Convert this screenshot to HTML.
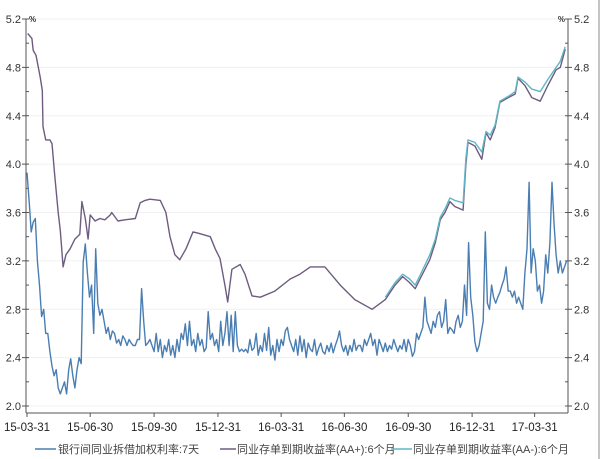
<!DOCTYPE html>
<html><head><meta charset="utf-8">
<style>
html,body{margin:0;padding:0;background:#fff;}
svg{display:block;font-family:"Liberation Sans","Noto Sans CJK SC",sans-serif;}
</style></head>
<body>
<svg id="chart" width="600" height="459" viewBox="0 0 600 459" xmlns="http://www.w3.org/2000/svg">
<g id="grid"></g>
<g id="axes"></g>
<g id="series"></g>
<g id="legend">
  <g>
    <line x1="35" y1="449" x2="56" y2="449" stroke="#4a7eb3" stroke-width="1.5"/>
    <text x="58" y="453" font-size="11" fill="#444">银行间同业拆借加权利率:7天</text>
  </g>
  <g>
    <line x1="220" y1="449" x2="236" y2="449" stroke="#6e5c80" stroke-width="1.5"/>
    <text x="237" y="453" font-size="11" fill="#444">同业存单到期收益率(AA+):6个月</text>
  </g>
  <g>
    <line x1="391" y1="449" x2="412" y2="449" stroke="#5fb6c6" stroke-width="1.5"/>
    <text x="413" y="453" font-size="11" fill="#444">同业存单到期收益率(AA-):6个月</text>
  </g>
</g>
<line x1="599" y1="0" x2="599" y2="459" stroke="#888" stroke-width="1"/>
</svg>
<script>
const yTicks = [2.0, 2.4, 2.8, 3.2, 3.6, 4.0, 4.4, 4.8, 5.2];
const xTickLabels = ["15-03-31","15-06-30","15-09-30","15-12-31","16-03-31","16-06-30","16-09-30","16-12-31","17-03-31"];
const xTickDays = [0, 91, 183, 275, 366, 457, 549, 641, 731];
const blueStartDay = 0;
const blueStepDays = 3;
const blueValues = [
3.93,3.7,3.44,3.52,3.55,3.2,3.0,2.74,2.8,2.6,
2.6,2.45,2.33,2.25,2.3,2.15,2.1,2.15,2.2,2.1,
2.3,2.39,2.25,2.15,2.3,2.4,2.35,3.19,3.34,3.1,
2.9,3.0,2.6,3.3,2.85,2.75,2.8,2.7,2.6,2.65,
2.55,2.62,2.6,2.52,2.55,2.5,2.58,2.55,2.5,2.55,
2.52,2.5,2.5,2.55,2.55,2.97,2.7,2.5,2.52,2.55,
2.5,2.45,2.6,2.45,2.55,2.4,2.5,2.45,2.55,2.42,
2.5,2.4,2.55,2.45,2.6,2.55,2.68,2.5,2.7,2.5,
2.55,2.45,2.6,2.5,2.55,2.45,2.48,2.78,2.55,2.6,
2.5,2.55,2.45,2.7,2.5,2.6,2.78,2.5,2.75,2.45,
2.78,2.5,2.45,2.47,2.45,2.47,2.44,2.55,2.46,2.48,
2.6,2.42,2.5,2.45,2.6,2.46,2.65,2.42,2.5,2.38,
2.55,2.45,2.55,2.5,2.62,2.65,2.55,2.5,2.45,2.55,
2.42,2.58,2.45,2.55,2.4,2.52,2.47,2.45,2.55,2.42,
2.48,2.52,2.45,2.43,2.5,2.45,2.52,2.44,2.5,2.55,
2.62,2.5,2.45,2.5,2.42,2.5,2.45,2.55,2.46,2.5,
2.5,2.45,2.55,2.5,2.55,2.6,2.5,2.55,2.42,2.55,
2.5,2.45,2.52,2.45,2.5,2.47,2.55,2.5,2.45,2.5,
2.47,2.55,2.45,2.55,2.5,2.41,2.45,2.6,2.55,2.6,
2.65,2.9,2.7,2.65,2.6,2.7,2.65,2.75,2.78,2.65,
2.7,2.88,2.6,2.65,2.63,2.6,2.7,2.75,2.65,2.7,
3.0,2.75,3.35,2.9,2.75,2.53,2.45,2.5,2.6,2.7,
3.44,2.85,2.8,3.0,2.9,2.85,2.9,2.94,3.0,3.05,
3.15,2.95,2.95,2.9,2.95,2.85,2.9,2.85,2.8,3.1,
3.3,3.85,3.1,3.3,3.2,2.95,3.0,2.85,2.95,3.25,
3.1,3.35,3.85,3.5,3.25,3.1,3.2,3.1,3.15,3.2];
const purpleDays = [1,7,9,13,19,22,23,27,33,36,40,45,48,52,56,62,69,76,79,84,88,91,98,105,112,120,122,131,141,156,163,170,177,192,200,206,213,220,229,239,246,264,271,278,285,289,295,307,314,324,336,357,379,393,408,429,451,472,497,516,530,541,551,559,566,580,588,595,602,609,616,628,632,635,645,655,661,667,674,681,693,703,707,717,727,739,750,762,768,775];
const purpleValues = [5.08,5.04,4.94,4.9,4.72,4.61,4.31,4.2,4.2,4.17,3.9,3.6,3.45,3.15,3.25,3.3,3.38,3.42,3.69,3.55,3.38,3.58,3.53,3.55,3.54,3.58,3.6,3.53,3.54,3.55,3.68,3.7,3.71,3.7,3.6,3.4,3.25,3.21,3.3,3.44,3.43,3.4,3.3,3.22,3.0,2.86,3.13,3.17,3.09,2.91,2.9,2.95,3.05,3.09,3.15,3.15,3.0,2.88,2.8,2.88,3.0,3.07,3.02,2.97,3.05,3.21,3.35,3.54,3.6,3.69,3.65,3.62,4.0,4.18,4.15,4.04,4.26,4.2,4.3,4.51,4.55,4.58,4.71,4.65,4.55,4.52,4.65,4.78,4.8,4.95];
const cyanDays = [516,530,541,551,559,566,580,588,595,602,609,616,628,632,635,645,655,661,667,674,681,693,703,707,717,727,739,750,762,768,775];
const cyanValues = [2.9,3.02,3.09,3.05,3.0,3.08,3.25,3.38,3.56,3.63,3.72,3.7,3.68,4.05,4.2,4.18,4.1,4.27,4.24,4.32,4.52,4.56,4.6,4.72,4.68,4.62,4.6,4.7,4.8,4.85,4.97];

const NS = "http://www.w3.org/2000/svg";
const X0 = 27, PX_PER_DAY = 63.4/91.3;
const Y_TOP = 19, Y_BOT = 406, VMAX = 5.2, VMIN = 2.0;
const AX_L = 26, AX_R = 568, AX_B = 413;
function xs(d){ return X0 + d*PX_PER_DAY; }
function ys(v){ return Y_TOP + (VMAX - v)/(VMAX - VMIN)*(Y_BOT - Y_TOP); }
function mk(tag, attrs, parent){ const e=document.createElementNS(NS,tag); for(const k in attrs) e.setAttribute(k,attrs[k]); parent.appendChild(e); return e; }

const grid = document.getElementById('grid');
const axes = document.getElementById('axes');
const series = document.getElementById('series');

yTicks.forEach(v=>{
  const g = mk('line',{x1:AX_L,x2:AX_R,y1:ys(v),y2:ys(v),stroke:'#f0f0f0','stroke-width':1},grid);
  
  
});
const la = mk('line',{x1:AX_L,x2:AX_L,y1:Y_TOP,y2:AX_B,stroke:'#555','stroke-width':1},axes);


const ra = mk('line',{x1:AX_R,x2:AX_R,y1:Y_TOP,y2:AX_B,stroke:'#555','stroke-width':1},axes);


const xa = mk('line',{x1:AX_L,x2:AX_R,y1:AX_B,y2:AX_B,stroke:'#555','stroke-width':1},axes);


for(let v=2.0; v<=5.2001; v+=0.2){
  mk('line',{x1:AX_L,x2:AX_L+3,y1:ys(v),y2:ys(v),stroke:'#555'},axes);
  mk('line',{x1:AX_R-3,x2:AX_R,y1:ys(v),y2:ys(v),stroke:'#555'},axes);
}
yTicks.forEach(v=>{
  mk('line',{x1:AX_L-4,x2:AX_L,y1:ys(v),y2:ys(v),stroke:'#555'},axes);
  mk('line',{x1:AX_R,x2:AX_R+4,y1:ys(v),y2:ys(v),stroke:'#555'},axes);
  const t1 = mk('text',{x:AX_L-5,y:ys(v)+4,'text-anchor':'end','font-size':'11',fill:'#333'},axes);
  t1.textContent = v.toFixed(1);
  
  
  const t2 = mk('text',{x:AX_R+6,y:ys(v)+4,'font-size':'11',fill:'#333'},axes);
  t2.textContent = v.toFixed(1);
  
  
});
const u1 = mk('text',{x:AX_L+3,y:ys(5.2)+3,'font-size':'8',fill:'#333','font-weight':'bold'},axes);
u1.textContent='%';


const u2 = mk('text',{x:AX_R-3,y:ys(5.2)+3,'font-size':'8',fill:'#333','font-weight':'bold','text-anchor':'end'},axes);
u2.textContent='%';


xTickDays.forEach((d,i)=>{
  mk('line',{x1:xs(d),x2:xs(d),y1:AX_B,y2:AX_B+4,stroke:'#555'},axes);
  const t = mk('text',{x:xs(d),y:AX_B+18,'text-anchor':'middle','font-size':'11.5',fill:'#222'},axes);
  t.textContent = xTickLabels[i];
  
  
});

function drawLine(days, vals, color, name){
  const pts = days.map((d,i)=>xs(d).toFixed(1)+','+ys(vals[i]).toFixed(1)).join(' ');
  const p = mk('polyline',{points:pts,fill:'none',stroke:color,'stroke-width':1.4,'stroke-linejoin':'round'},series);
  
  
}
const blueDays = blueValues.map((v,i)=>blueStartDay + i*blueStepDays);
drawLine(blueDays, blueValues, '#4a7eb3', 'line-interbank-7d');
drawLine(purpleDays, purpleValues, '#6e5c80', 'line-ncd-aaplus-6m');
drawLine(cyanDays, cyanValues, '#5fb6c6', 'line-ncd-aa-6m');
</script>
</body></html>
